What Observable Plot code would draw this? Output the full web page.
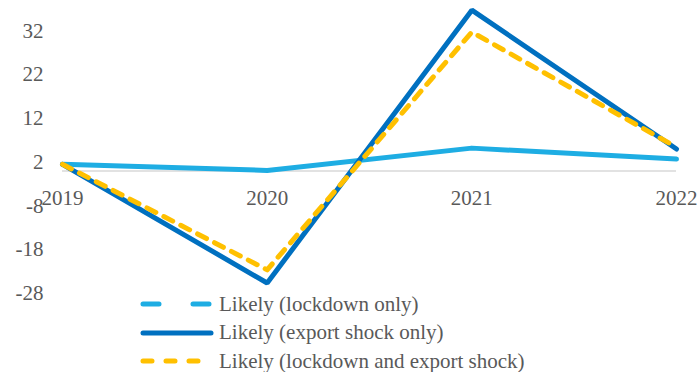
<!DOCTYPE html>
<html>
<head>
<meta charset="utf-8">
<script src="https://cdn.jsdelivr.net/npm/d3@7"></script>
<script src="https://cdn.jsdelivr.net/npm/@observablehq/plot@0.6"></script>
</head>
<body style="margin:0;font-size:16px;font-family:'Liberation Serif'">
<script>
const years = [2019, 2020, 2021, 2022];
const lockdownOnly = [1.5, 0.1, 5.2, 2.7];
const exportShockOnly = [1.5, -25.6, 36.7, 5.0];
const lockdownAndExport = [1.5, -22.6, 31.7, 5.4];
const seriesNames = ["Likely (lockdown only)", "Likely (export shock only)", "Likely (lockdown and export shock)"];
const yTicks = [32, 22, 12, 2, -8, -18, -28];

const FS = 21;
const colors = ["#1EADE3", "#0070C0", "#FFC000"];
const values = [lockdownOnly, exportShockOnly, lockdownAndExport];
const data = [];
values.forEach((vals, i) => vals.forEach((v, j) => data.push({series: seriesNames[i], year: years[j], value: v})));
const bySeries = name => data.filter(d => d.series === name);

const chart = Plot.plot({
  width: 698,
  height: 300,
  marginLeft: 62,
  marginRight: 22,
  marginTop: 4,
  marginBottom: 7,
  style: { fontFamily: "'Liberation Serif'", fontSize: FS + "px", color: "#595959", overflow: "visible" },
  x: { type: "linear", domain: [2019, 2022], axis: null },
  y: { domain: [-28, 38], label: null },
  marks: [
    Plot.axisY({ ticks: yTicks, tickSize: 0, tickPadding: 19, label: null, tickFormat: d => String(d), fill: "#595959", fontSize: FS }),
    Plot.ruleY([0], { x1: 2019, x2: 2022, stroke: "#D9D9D9", strokeWidth: 1.5 }),
    Plot.text(years, { x: d => d, y: () => 0, text: d => String(d), dy: 27, fill: "#595959", fontSize: FS }),
    Plot.line(bySeries(seriesNames[0]), { x: "year", y: "value", stroke: colors[0], strokeWidth: 5, strokeLinecap: "round", strokeLinejoin: "round" }),
    Plot.line(bySeries(seriesNames[1]), { x: "year", y: "value", stroke: colors[1], strokeWidth: 5, strokeLinecap: "round", strokeLinejoin: "miter" }),
    Plot.line(bySeries(seriesNames[2]), { x: "year", y: "value", stroke: colors[2], strokeWidth: 5, strokeDasharray: "10,9", strokeLinecap: "round", strokeLinejoin: "round" })
  ]
});
document.body.appendChild(chart);

const legend = document.createElement("div");
legend.style.fontFamily = "'Liberation Serif'";
legend.style.marginLeft = "140px";
legend.style.marginTop = "-10px";
document.body.appendChild(legend);
seriesNames.forEach((name, i) => {
  const row = document.createElement("div");
  row.style.display = "flex";
  row.style.alignItems = "center";
  row.style.height = "28.5px";
  row.style.fontSize = FS + "px";
  row.style.color = "#595959";
  row.style.fontFamily = "'Liberation Serif'";
  const ns = "http://www.w3.org/2000/svg";
  const s = document.createElementNS(ns, "svg");
  s.setAttribute("width", 74); s.setAttribute("height", 10);
  s.style.marginRight = "5px";
  const l = document.createElementNS(ns, "line");
  l.setAttribute("x1", 3); l.setAttribute("x2", 71); l.setAttribute("y1", 5); l.setAttribute("y2", 5);
  l.setAttribute("stroke", colors[i]); l.setAttribute("stroke-width", 5); l.setAttribute("stroke-linecap", "round");
  if (i === 0) l.setAttribute("stroke-dasharray", "16,34");
  if (i === 2) l.setAttribute("stroke-dasharray", "9,14");
  s.appendChild(l);
  row.appendChild(s);
  const t = document.createElement("span");
  t.textContent = name;
  t.style.fontFamily = "'Liberation Serif'";
  row.appendChild(t);
  legend.appendChild(row);
});
</script>
</body>
</html>
